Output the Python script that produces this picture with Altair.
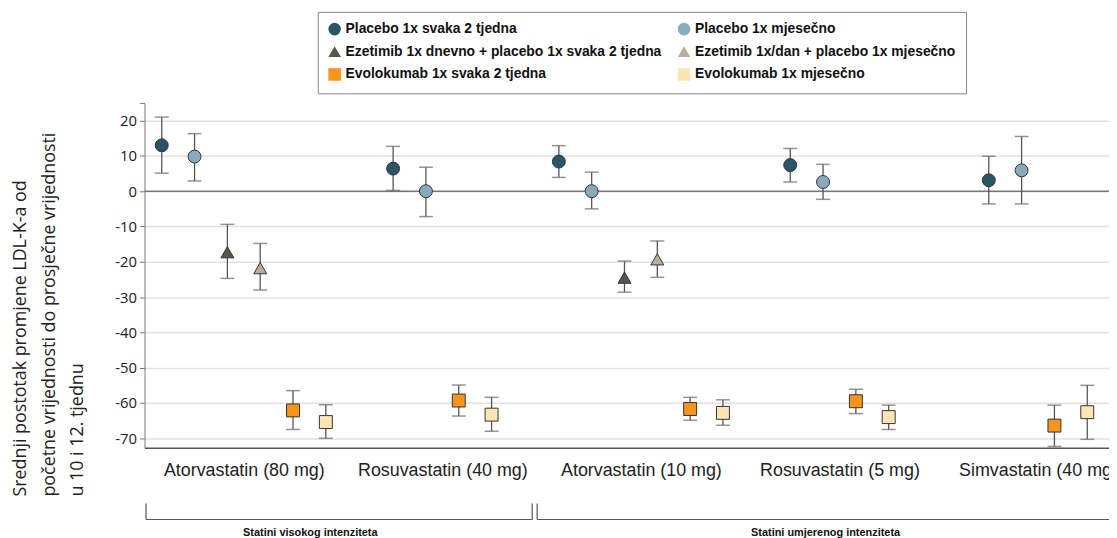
import json
import altair as alt
import pandas as pd

groups = ["Atorvastatin (80 mg)", "Rosuvastatin (40 mg)", "Atorvastatin (10 mg)",
          "Rosuvastatin (5 mg)", "Simvastatin (40 mg)"]
series = ["Placebo 1x svaka 2 tjedna", "Placebo 1x mjesečno",
          "Ezetimib 1x dnevno + placebo 1x svaka 2 tjedna", "Ezetimib 1x/dan + placebo 1x mjesečno",
          "Evolokumab 1x svaka 2 tjedna", "Evolokumab 1x mjesečno"]
colors = ["#2b5566", "#87aabc", "#5a5549", "#b9ae98", "#f7941d", "#fde4b3"]
shapes = ["circle", "circle", "triangle-up", "triangle-up", "square", "square"]

p2_mean = [13.0, 6.4, 8.4, 7.4, 3.1]
p2_lo = [5.1, 0.2, 3.9, 2.6, -3.6]
p2_hi = [21.0, 12.7, 12.9, 12.1, 9.9]
pm_mean = [9.8, 0.0, 0.0, 2.6, 5.9]
pm_lo = [2.9, -7.2, -5.0, -2.3, -3.6]
pm_hi = [16.3, 6.8, 5.4, 7.6, 15.5]
e2_mean = [-17.3, None, -24.5, None, None]
e2_lo = [-24.7, None, -28.6, None, None]
e2_hi = [-9.4, None, -19.8, None, None]
em_mean = [-21.8, None, -19.3, None, None]
em_lo = [-28.0, None, -24.4, None, None]
em_hi = [-14.8, None, -14.1, None, None]
v2_mean = [-62.1, -59.3, -61.7, -59.5, -66.4]
v2_lo = [-67.5, -63.7, -64.9, -63.0, -72.3]
v2_hi = [-56.5, -54.9, -58.4, -56.1, -60.6]
vm_mean = [-65.4, -63.3, -62.8, -64.0, -62.6]
vm_lo = [-70.0, -68.0, -66.3, -67.5, -70.3]
vm_hi = [-60.5, -58.4, -59.1, -60.6, -55.0]

bracket_labels = ["Statini visokog intenziteta", "Statini umjerenog intenziteta"]
bracket_start = [-0.4925, 1.4775]
bracket_end = [1.4525, 4.70]
bracket_label_x = [0.335, 2.93]

y_ticks = [-70, -60, -50, -40, -30, -20, -10, 0, 10, 20, 25]

means = [p2_mean, pm_mean, e2_mean, em_mean, v2_mean, vm_mean]
los = [p2_lo, pm_lo, e2_lo, em_lo, v2_lo, vm_lo]
his = [p2_hi, pm_hi, e2_hi, em_hi, v2_hi, vm_hi]

rows = []
for si, s in enumerate(series):
    for gi, g in enumerate(groups):
        if means[si][gi] is None:
            continue
        rows.append({"gi": gi, "group": g, "si": si, "series": s,
                     "mean": means[si][gi], "lo": los[si][gi], "hi": his[si][gi]})
df = pd.DataFrame(rows)

xscale = alt.Scale(domain=[-0.5, 4.3575], nice=False, zero=False)
yscale = alt.Scale(domain=[-72.7, 25], nice=False, zero=False)

label_expr = json.dumps(groups) + "[datum.value]"

base = alt.Chart(df).transform_window(
    rank="rank()", groupby=["gi"], sort=[alt.SortField("si")]
).transform_joinaggregate(
    n="count()", groupby=["gi"]
).transform_calculate(
    xpos="datum.gi + (datum.rank - (datum.n + 1) / 2) / 6.05"
)

xenc = alt.X("xpos:Q", scale=xscale, title=None,
             axis=alt.Axis(values=list(range(len(groups))), tickCount=20, labelExpr=label_expr,
                           grid=False, ticks=False, domainColor="#555", domainWidth=1.5,
                           labelFont="Liberation Sans", labelFontSize=18, labelColor="#222",
                           labelPadding=14, labelOverlap=False, labelBound=False))

yaxis = alt.Axis(values=y_ticks, tickCount=30, labelOverlap=False,
                 labelExpr="datum.value == 25 ? '' : replace(datum.label, '\u2212', '-')",
                 gridColor={"condition": {"test": "datum.value == 25", "value": "transparent"},
                            "value": "#e2e2e2"},
                 gridWidth=1.5, tickColor="#777", tickSize=5, domainColor="#777",
                 labelFont="Open Sans", labelFontSize=15, labelColor="#222", labelPadding=3,
                 titleFont="Open Sans", titleFontSize=18, titleFontWeight="normal",
                 titleColor="#222", titleAngle=270, titleAlign="left",
                 titleBaseline="top", titleLineHeight=28.5,
                 titleX=-133.5, titleY=396)
ytitle = ["Srednji postotak promjene LDL-K-a od",
          "početne vrijednosti do prosječne vrijednosti",
          "u 10 i 12. tjednu"]

zero = alt.Chart(pd.DataFrame({"z": [0]})).mark_rule(color="#777", strokeWidth=1.5).encode(
    y=alt.Y("z:Q", scale=yscale, title=ytitle, axis=yaxis)
)

rules = base.mark_rule(color="#555", strokeWidth=1.3).encode(
    x=xenc,
    y=alt.Y("lo:Q", scale=yscale, title=ytitle, axis=yaxis),
    y2="hi:Q",
)

caps_lo = base.mark_tick(orient="horizontal", size=14, thickness=1.5, color="#666").encode(
    x=alt.X("xpos:Q", scale=xscale), y=alt.Y("lo:Q", scale=yscale, title=ytitle, axis=yaxis)
)
caps_hi = base.mark_tick(orient="horizontal", size=14, thickness=1.5, color="#666").encode(
    x=alt.X("xpos:Q", scale=xscale), y=alt.Y("hi:Q", scale=yscale, title=ytitle, axis=yaxis)
)

legend = alt.Legend(title=None, orient="none", legendX=174.5, legendY=-91.7, columns=2,
                    direction="horizontal",
                    labelFont="Liberation Sans", labelFontWeight="bold", labelFontSize=14,
                    labelColor="#111", symbolSize=160, symbolStrokeColor="#333",
                    symbolStrokeWidth=1, symbolOpacity=1, labelOffset=4, rowPadding=6,
                    columnPadding=13, padding=10, strokeColor="#888", fillColor="white",
                    labelLimit=500)

points = base.mark_point(filled=True, opacity=1, stroke="#333", strokeWidth=1, size=170).encode(
    x=alt.X("xpos:Q", scale=xscale),
    y=alt.Y("mean:Q", scale=yscale, title=ytitle, axis=yaxis),
    color=alt.Color("series:N", scale=alt.Scale(domain=series, range=colors), legend=legend),
    shape=alt.Shape("series:N", scale=alt.Scale(domain=series, range=shapes), legend=legend),
)

bdf = pd.DataFrame({"label": bracket_labels, "start": bracket_start, "end": bracket_end,
                    "lx": bracket_label_x, "top": [-88.5, -88.5], "bot": [-93.0, -93.0],
                    "ly": [-96.9, -96.9]})
bbase = alt.Chart(bdf)
b_h = bbase.mark_rule(color="#555", strokeWidth=1.2).encode(
    x=alt.X("start:Q", scale=xscale), x2="end:Q", y=alt.Y("bot:Q", scale=yscale, title=ytitle, axis=yaxis))
b_l = bbase.mark_rule(color="#555", strokeWidth=1.2).encode(
    x=alt.X("start:Q", scale=xscale), y=alt.Y("top:Q", scale=yscale, title=ytitle, axis=yaxis), y2="bot:Q")
b_r = bbase.mark_rule(color="#555", strokeWidth=1.2).encode(
    x=alt.X("end:Q", scale=xscale), y=alt.Y("top:Q", scale=yscale, title=ytitle, axis=yaxis), y2="bot:Q")
b_t = bbase.mark_text(font="Liberation Sans", fontWeight="bold", fontSize=11,
                      color="#111", baseline="middle", align="center").encode(
    x=alt.X("lx:Q", scale=xscale), y=alt.Y("ly:Q", scale=yscale, title=ytitle, axis=yaxis),
    text="label:N")

chart = alt.layer(zero, rules, caps_lo, caps_hi, points, b_h, b_l, b_r, b_t).properties(
    width=971.5, height=347.4,
    autosize=alt.AutoSizeParams(type="none"),
    padding={"left": 137.5, "top": 93.7, "right": 0, "bottom": 88.9},
).configure_view(stroke=None).resolve_scale(color="shared", shape="shared")

chart.save("out.html", embed_options={"renderer": "svg", "actions": False})
